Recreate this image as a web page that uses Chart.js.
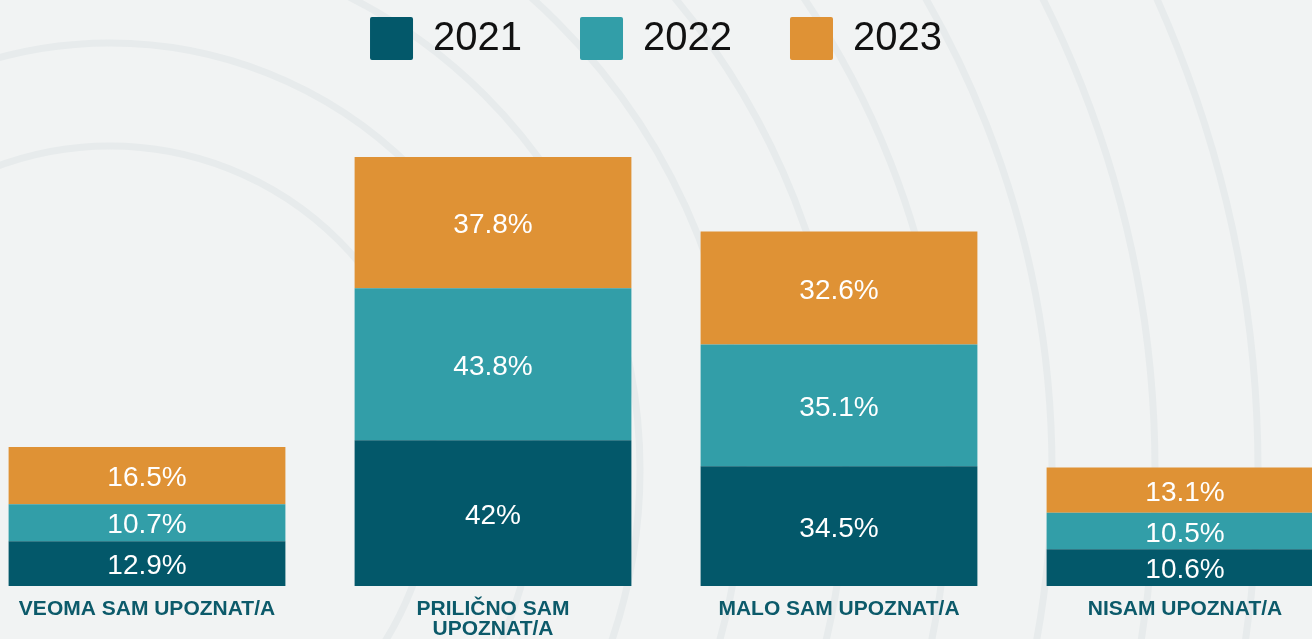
<!DOCTYPE html>
<html>
<head>
    <meta charset="UTF-8">
    <title>Upoznatost</title>
    <script src="https://cdn.jsdelivr.net/npm/chart.js"></script>
    <style>
        html, body { margin: 0; padding: 0; background: #f1f3f3; overflow: hidden; }
        #wrap { position: absolute; left: -26px; top: 0; width: 1384px; height: 639px; }
    </style>
</head>
<body>
    <div id="wrap"><canvas id="chart"></canvas></div>

    <script>
    // data
    const categories = ['VEOMA SAM UPOZNAT/A', ['PRILIČNO SAM', 'UPOZNAT/A'], 'MALO SAM UPOZNAT/A', 'NISAM UPOZNAT/A'];
    const years = ['2021', '2022', '2023'];
    const values2021 = [12.9, 42, 34.5, 10.6];
    const values2022 = [10.7, 43.8, 35.1, 10.5];
    const values2023 = [16.5, 37.8, 32.6, 13.1];
    const yMax = 148.7;

    const colors = ['#03586a', '#329ea8', '#df9235'];

    // faint rings in the background
    const rings = {
        id: 'rings',
        beforeDraw(chart) {
            const ctx = chart.ctx;
            ctx.save();
            ctx.strokeStyle = '#e7ebec';
            ctx.lineWidth = 7;
            for (let i = 0; i < 9; i++) {
                ctx.beginPath();
                ctx.arc(136, 470, 324 + i * 103, 0, Math.PI * 2);
                ctx.stroke();
            }
            ctx.restore();
        }
    };

    // percentage text inside each segment
    const segLabels = {
        id: 'segLabels',
        afterDatasetsDraw(chart) {
            const ctx = chart.ctx;
            ctx.save();
            ctx.fillStyle = '#ffffff';
            ctx.font = '28px "Liberation Sans", Arial, sans-serif';
            ctx.textAlign = 'center';
            ctx.textBaseline = 'middle';
            chart.data.datasets.forEach((ds, i) => {
                chart.getDatasetMeta(i).data.forEach((bar, j) => {
                    ctx.fillText(ds.data[j] + '%', bar.x, (bar.y + bar.base) / 2 + 3);
                });
            });
            ctx.restore();
        }
    };

    // legend sits a bit left of the plot centre
    const legendShift = {
        id: 'legendShift',
        afterLayout(chart) {
            chart.legend.left -= 10;
            chart.legend.right -= 10;
        }
    };

    new Chart(document.getElementById('chart'), {
        type: 'bar',
        data: {
            labels: categories,
            datasets: [
                { label: years[0], data: values2021, backgroundColor: colors[0] },
                { label: years[1], data: values2022, backgroundColor: colors[1] },
                { label: years[2], data: values2023, backgroundColor: colors[2] }
            ]
        },
        options: {
            responsive: true,
            maintainAspectRatio: false,
            animation: false,
            layout: { padding: { top: -41, left: 0, right: 0, bottom: -13 } },
            datasets: { bar: { categoryPercentage: 1, barPercentage: 0.8 } },
            plugins: {
                tooltip: { enabled: false },
                legend: {
                    position: 'top',
                    labels: {
                        boxWidth: 43,
                        boxHeight: 43,
                        padding: 58,
                        color: '#111111',
                        useBorderRadius: true,
                        borderRadius: 2,
                        font: { family: '"Liberation Sans", Arial, sans-serif', size: 40 }
                    }
                }
            },
            scales: {
                x: {
                    stacked: true,
                    grid: { display: false, drawTicks: false },
                    border: { display: false },
                    ticks: {
                        maxRotation: 0,
                        autoSkip: false,
                        padding: 13,
                        color: '#0c5a6a',
                        font: { family: '"Liberation Sans", Arial, sans-serif', size: 21, weight: 'bold', lineHeight: 0.95 }
                    }
                },
                y: {
                    stacked: true,
                    display: false,
                    min: 0,
                    max: yMax
                }
            }
        },
        plugins: [rings, segLabels, legendShift]
    });
    </script>
</body>
</html>
